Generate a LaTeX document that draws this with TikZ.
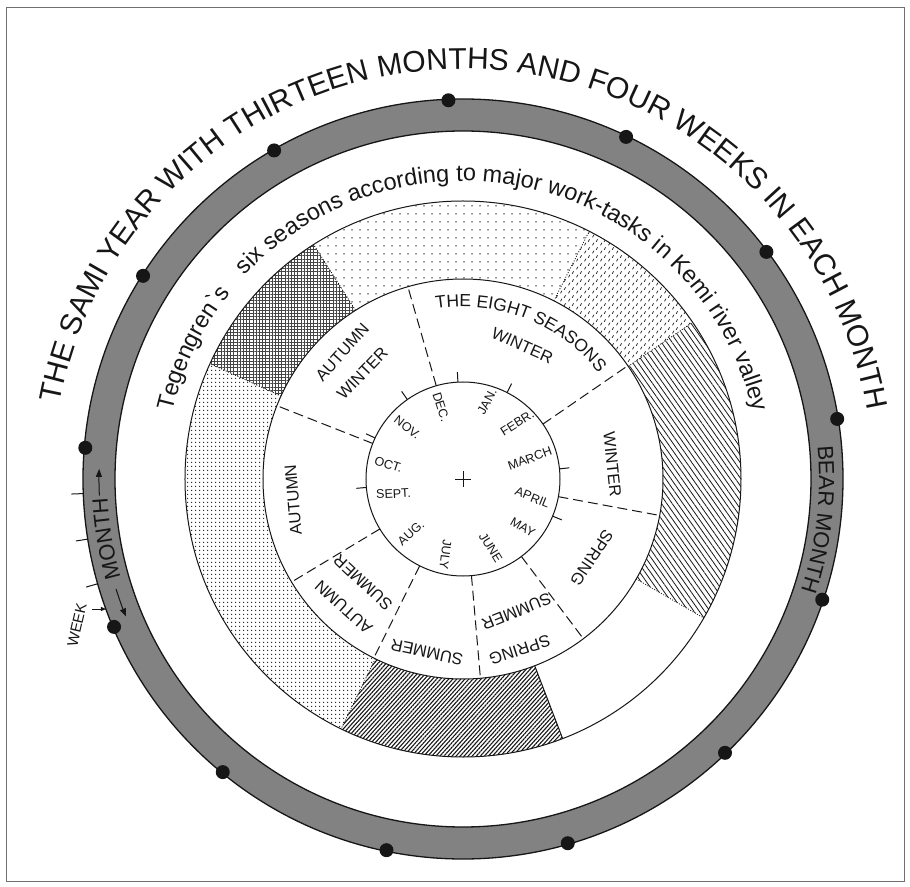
\documentclass[tikz,border=0pt]{standalone}
\usepackage{fontspec}
\setmainfont{Liberation Sans}
\usetikzlibrary{decorations.text,patterns,patterns.meta,arrows.meta}
\definecolor{ink}{HTML}{161616}
\definecolor{ringgray}{HTML}{828282}
\definecolor{frameGray}{HTML}{707070}

\tikzdeclarepattern{
  name=dashmarks,
  type=uncolored,
  bounding box={(0pt,0pt) and (8pt,8pt)},
  tile size={(8pt,8pt)},
  code={
    \draw[line width=0.75pt] (0.6pt,0.8pt) -- (2.2pt,3.6pt);
    \draw[line width=0.75pt] (4.6pt,4.6pt) -- (6.2pt,7.4pt);
  }
}

\newcommand{\RMon}{97}
\newcommand{\RMid}{200}
\newcommand{\RSix}{278}
\newcommand{\RGin}{348}
\newcommand{\RGout}{380}
\newcommand{\SixSector}[3]{%
  \fill[#3] (#1:\RMid) arc[start angle=#1, end angle=#2, radius=\RMid]
    -- (#2:\RSix) arc[start angle=#2, end angle=#1, radius=\RSix] -- cycle;
}

\tikzset{
  ringLine/.style={draw=ink, line width=1pt},
  grayEdge/.style={draw=ink, line width=1.3pt},
  seasonCut/.style={draw=ink, line width=1pt, dash pattern=on 10pt off 5pt},
  patchEdge/.style={draw=ink, line width=0.8pt, dash pattern=on 1pt off 1.6pt},
  frameLine/.style={draw=frameGray, line width=0.8pt},
  monthLbl/.style={text=ink, font=\fontsize{12.5}{12.5}\selectfont, inner sep=0pt},
  seasonLbl/.style={text=ink, font=\fontsize{16.5}{16.5}\selectfont, inner sep=0pt},
  weekLbl/.style={text=ink, font=\fontsize{15}{15}\selectfont, inner sep=0pt},
  monthDot/.style={circle, fill=ink, inner sep=0pt, minimum size=14pt},
  arcText/.style 2 args={decorate, decoration={text along path, text align=center,
    text color=ink, text={|\fontsize{#1}{#1}\selectfont|#2}}},
}

\begin{document}
\begin{tikzpicture}[x=1pt, y=1pt]
  \useasboundingbox (-463,479) rectangle (447,-407);
  \draw[frameLine] (-457,472) rectangle (441,-402);

  % Tegengren's seasons band
  \SixSector{122.5}{63}{pattern={Dots[distance=8pt,radius=0.75pt]}, pattern color=ink}
  \SixSector{63}{34.3}{pattern=dashmarks, pattern color=ink}
  \SixSector{34.3}{-30}{pattern={Lines[angle=-55,distance=4.4pt,line width=0.8pt]}, pattern color=ink}
  \SixSector{-69}{-116}{pattern={Lines[angle=48,distance=3pt,line width=1.1pt]}, pattern color=ink}
  \SixSector{-116}{-204.5}{pattern={Dots[distance=4pt,radius=0.85pt]}, pattern color=ink}
  \SixSector{155.5}{122.5}{pattern={Hatch[distance=3.2pt,line width=0.3pt]}, pattern color=ink!80}
  \foreach \a in {122.5,63,34.3,-30,-116,155.5}
    \draw[patchEdge] (\a:\RMid) -- (\a:\RSix);
  \draw[ringLine] (-69:\RMid) -- (-69:\RSix);

  \draw[ringLine, fill=white] (0,0) circle[radius=\RMid];
  \draw[ringLine] (0,0) circle[radius=\RMon];
  \draw[ringLine] (0,0) circle[radius=\RSix];

  % thirteen months ring
  \fill[ringgray, even odd rule] (0,0) circle[radius=\RGout] (0,0) circle[radius=\RGin];
  \draw[grayEdge] (0,0) circle[radius=\RGout];
  \draw[grayEdge] (0,0) circle[radius=\RGin];
  \foreach \k in {0,...,12}
    \node[monthDot] (dot\k) at ({92.2-27.6923*\k}:379) {};
  \foreach \a in {182.2,189.1,196}
    \draw[ink, line width=1pt] (\a:\RGout) -- (\a:392);

  % eight seasons
  \foreach \a in {106,34.5,-10.5,-53,-85,-116.5,-149,158.5}
    \draw[seasonCut] (\a:\RMon) -- (\a:\RMid);
  \foreach \a in {93,63,125,155,185,6,-22.5}
    \draw[ink, line width=1pt] (\a:\RMon) -- (\a:107);

  \draw[ink, line width=0.9pt] (-8,0) -- (8,0) (0,-8) -- (0,8);

  \foreach \ang/\rad/\rot/\txt [count=\i] in {72.7/81/62/JAN., 46/78/32/FEBR.,
      17/70/20/MARCH, -15/72/-22/APRIL, -39/77/-30/MAY, -68/74/-58/JUNE,
      -103/78/-97/JULY, -134/75/42/AUG., -168/71/3/SEPT., 169/76/-18/OCT.,
      137/76/-38/NOV., 107/75/-72/DEC.}
    \node[monthLbl, rotate=\rot] (mon\i) at (\ang:\rad) {\txt};

  \foreach \ang/\rad/\rot/\txt [count=\i] in {66/146/-24/WINTER, 5.5/150/-84/WINTER,
      -31.5/151/-124/SPRING, -68/143/-158/SUMMER, -71.6/180/-162/SPRING,
      -101.8/177/168/SUMMER, -134/144/137/SUMMER, -133/175/138/AUTUMN,
      187/171/95/AUTUMN, 133.6/175/48/AUTUMN, 133.6/146/46/WINTER}
    \node[seasonLbl, rotate=\rot] (sea\i) at (\ang:\rad) {\txt};

  \path[arcText={17.5}{THE EIGHT SEASONS}] (113:172) arc[start angle=113, end angle=24, radius=172];
  \path[arcText={23.5}{Tegengren{\textasciigrave}s{\kern16pt} six seasons according to major work-tasks in Kemi river valley}]
    (178:298) arc[start angle=178, end angle=2, radius=298];
  \path[arcText={30}{THE SAMI YEAR WITH THIRTEEN MONTHS AND FOUR WEEKS IN EACH MONTH}]
    (176:410) arc[start angle=176, end angle=3, radius=410];
  \path[arcText={22}{BEAR MONTH}] (20:356) arc[start angle=20, end angle=-33, radius=356];
  \path[arcText={22}{MONTH}] (205:356) arc[start angle=205, end angle=174, radius=356];

  \draw[ink, line width=1pt, -{Triangle[length=8pt,width=6pt]}]
    (182.6:364) arc[start angle=182.6, end angle=178.4, radius=364];
  \draw[ink, line width=1pt, -{Triangle[length=8pt,width=6pt]}]
    (197.6:364) arc[start angle=197.6, end angle=202.2, radius=364];

  \node[weekLbl, rotate=77] (week) at (-386,-146) {WEEK};
  \coordinate (weekTip) at (-357,-130);
  \draw[ink, line width=0.9pt, -{Triangle[length=5pt,width=4pt]}] (-371,-130) -- (weekTip);
\end{tikzpicture}
\end{document}
